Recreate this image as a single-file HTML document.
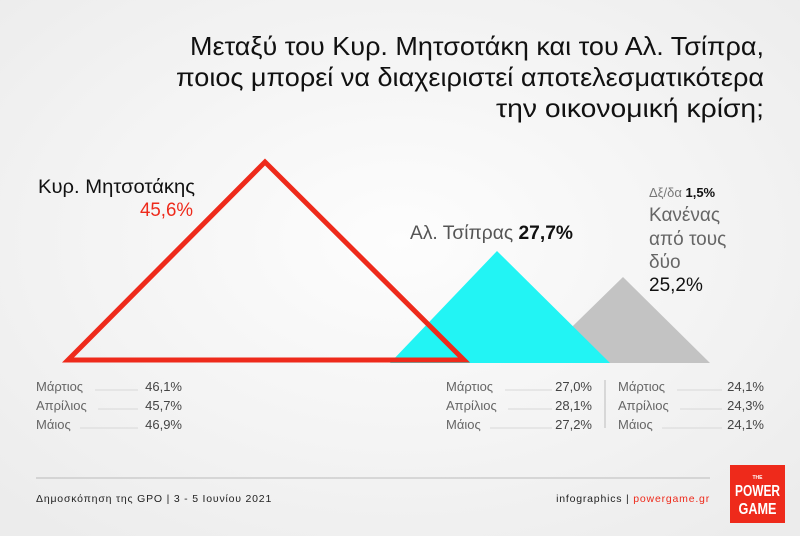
<!DOCTYPE html>
<html><head><meta charset="utf-8"><style>
html,body{margin:0;padding:0;background:#f4f4f4;}
svg{display:block;}
text{font-family:"Liberation Sans",sans-serif;}
</style></head><body>
<svg width="800" height="536" viewBox="0 0 800 536" xmlns="http://www.w3.org/2000/svg">
<defs><radialGradient id="bg" cx="0.5" cy="0.45" r="0.7"><stop offset="0" stop-color="#fdfdfd"/><stop offset="1" stop-color="#ececec"/></radialGradient></defs>
<rect width="800" height="536" fill="url(#bg)"/>
<g fill="#111" font-size="26" text-anchor="end">
<text x="764" y="55" textLength="574" lengthAdjust="spacingAndGlyphs">Μεταξύ του Κυρ. Μητσοτάκη και του Αλ. Τσίπρα,</text>
<text x="764" y="86" textLength="588" lengthAdjust="spacingAndGlyphs">ποιος μπορεί να διαχειριστεί αποτελεσματικότερα</text>
<text x="764" y="117" textLength="268" lengthAdjust="spacingAndGlyphs">την οικονομική κρίση;</text>
</g>
<polygon points="535,363 623,277 710,363" fill="#c3c3c3"/>
<polygon points="390,363 497,251 610,363" fill="#22f4f4"/>
<polygon points="68,360 265,162 464,360" fill="none" stroke="#ee2a1b" stroke-width="5" stroke-linejoin="miter"/>
<text x="195" y="193" font-size="19" fill="#111" text-anchor="end" textLength="157" lengthAdjust="spacingAndGlyphs">Κυρ. Μητσοτάκης</text>
<text x="193" y="216" font-size="19" fill="#ee2a1b" text-anchor="end" textLength="53" lengthAdjust="spacingAndGlyphs">45,6%</text>
<text x="410" y="239" font-size="19" fill="#555" textLength="163" lengthAdjust="spacingAndGlyphs">Αλ. Τσίπρας <tspan fill="#111" font-weight="bold">27,7%</tspan></text>
<text x="649" y="197" font-size="13" fill="#777">Δξ/δα <tspan fill="#111" font-weight="bold">1,5%</tspan></text>
<g font-size="19" fill="#666"><text x="649" y="221">Κανένας</text><text x="649" y="245">από τους</text><text x="649" y="268">δύο</text></g>
<text x="649" y="291" font-size="19" fill="#111">25,2%</text>
<g font-size="13" fill="#666">
<text x="36" y="391">Μάρτιος</text><text x="36" y="410">Απρίλιος</text><text x="36" y="429">Μάιος</text>
<text x="446" y="391">Μάρτιος</text><text x="446" y="410">Απρίλιος</text><text x="446" y="429">Μάιος</text>
<text x="618" y="391">Μάρτιος</text><text x="618" y="410">Απρίλιος</text><text x="618" y="429">Μάιος</text>
</g>
<g stroke="#d8d8d8" stroke-width="1">
<line x1="95" y1="390" x2="138" y2="390"/><line x1="98" y1="409" x2="138" y2="409"/><line x1="80" y1="428" x2="138" y2="428"/>
<line x1="505" y1="390" x2="552" y2="390"/><line x1="508" y1="409" x2="552" y2="409"/><line x1="490" y1="428" x2="552" y2="428"/>
<line x1="677" y1="390" x2="722" y2="390"/><line x1="680" y1="409" x2="722" y2="409"/><line x1="662" y1="428" x2="722" y2="428"/>
<line x1="605" y1="380" x2="605" y2="428" stroke="#bbb"/>
<line x1="36" y1="478" x2="710" y2="478" stroke="#bbb"/>
</g>
<g font-size="13" fill="#444" text-anchor="end">
<text x="182" y="391">46,1%</text><text x="182" y="410">45,7%</text><text x="182" y="429">46,9%</text>
<text x="592" y="391">27,0%</text><text x="592" y="410">28,1%</text><text x="592" y="429">27,2%</text>
<text x="764" y="391">24,1%</text><text x="764" y="410">24,3%</text><text x="764" y="429">24,1%</text>
</g>
<text x="36" y="502" font-size="10.5" fill="#222" letter-spacing="0.8">Δημοσκόπηση της GPO | 3 - 5 Ιουνίου 2021</text>
<text x="710" y="502" font-size="10.5" fill="#222" text-anchor="end" letter-spacing="0.8">infographics | <tspan fill="#ee2a1b">powergame.gr</tspan></text>
<rect x="730" y="465" width="55" height="58" fill="#ee2a1b"/>
<text x="757.5" y="479" font-size="5" fill="#fff" text-anchor="middle" font-weight="bold">THE</text>
<text x="757.5" y="496" font-size="16" fill="#fff" text-anchor="middle" font-weight="bold" textLength="45" lengthAdjust="spacingAndGlyphs">POWER</text>
<text x="757.5" y="514" font-size="16" fill="#fff" text-anchor="middle" font-weight="bold" textLength="38" lengthAdjust="spacingAndGlyphs">GAME</text>
</svg>
</body></html>
